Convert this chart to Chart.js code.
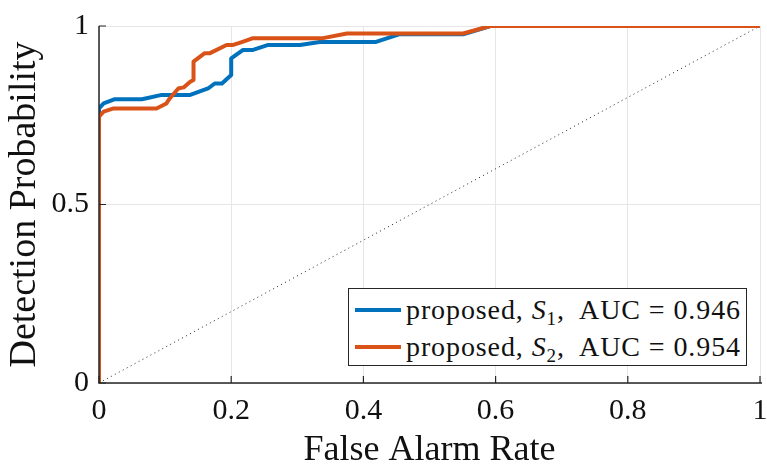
<!DOCTYPE html>
<html>
<head>
<meta charset="utf-8">
<script src="https://cdn.jsdelivr.net/npm/chart.js@4/dist/chart.umd.min.js"></script>
<style>
  html, body { margin:0; padding:0; background:#fff; }
  #wrap { position:relative; width:767px; height:467px; }
  #legend {
    position:absolute; left:348px; top:288px; width:397px; height:76px;
    border:1px solid #262626; background:#fff; box-sizing:content-box;
    font-family:"Liberation Serif", serif; font-size:28px; letter-spacing:0.9px; color:#111;
  }
  .row { position:absolute; left:0; height:36px; display:flex; align-items:center; white-space:nowrap; }
  .swatch { width:46px; height:4px; margin-left:6px; margin-right:5px; }
  sub { font-size:19px; vertical-align:-6px; line-height:0; }
</style>
</head>
<body>
<div id="wrap">
  <canvas id="roc" width="767" height="467"></canvas>
  <div id="legend"></div>
</div>
<script>
// ROC curves: false alarm rate (x) vs detection probability (y)
const s1Fpr = [0, 0, 0.007, 0.024, 0.065, 0.095, 0.138, 0.165, 0.175, 0.186, 0.2, 0.2, 0.218, 0.233, 0.256, 0.304, 0.334, 0.418, 0.455, 0.551, 0.592, 1];
const s1Tpr = [0, 0.769, 0.783, 0.795, 0.795, 0.807, 0.807, 0.825, 0.839, 0.839, 0.863, 0.909, 0.933, 0.933, 0.947, 0.947, 0.955, 0.955, 0.977, 0.977, 1, 1];

const s2Fpr = [0, 0, 0.007, 0.022, 0.087, 0.102, 0.107, 0.12, 0.128, 0.138, 0.143, 0.143, 0.16, 0.168, 0.193, 0.203, 0.216, 0.233, 0.339, 0.375, 0.551, 0.592, 1];
const s2Tpr = [0, 0.746, 0.76, 0.769, 0.769, 0.783, 0.797, 0.825, 0.828, 0.844, 0.849, 0.9, 0.924, 0.924, 0.947, 0.947, 0.955, 0.966, 0.966, 0.979, 0.979, 1, 1];

const chanceLine = [0, 1];
const xTicks = [0, 0.2, 0.4, 0.6, 0.8, 1];
const yTicks = [0, 0.5, 1];

const seriesNames = ['proposed, <i>S</i><sub>1</sub>,&nbsp; AUC = 0.946', 'proposed, <i>S</i><sub>2</sub>,&nbsp; AUC = 0.954'];
const seriesColors = ['#0072BD', '#D95319'];

const toPts = (xs, ys) => xs.map((x, i) => ({ x, y: ys[i] }));
const axisColor = '#262626';
const serif = "'Liberation Serif', 'Times New Roman', serif";
Chart.defaults.font.family = serif;

// MATLAB-style inward tick marks + left/bottom axis lines
const inwardTicks = {
  id: 'inwardTicks',
  afterDatasetsDraw(chart) {
    const { ctx, chartArea: a, scales: { x, y } } = chart;
    ctx.save();
    ctx.strokeStyle = axisColor;
    ctx.lineWidth = 1.2;
    ctx.beginPath();
    xTicks.forEach(v => { const px = x.getPixelForValue(v); ctx.moveTo(px, a.bottom); ctx.lineTo(px, a.bottom - 7); });
    yTicks.forEach(v => { const py = y.getPixelForValue(v); ctx.moveTo(a.left, py); ctx.lineTo(a.left + 7, py); });
    ctx.stroke();
    ctx.lineWidth = 1.5;
    ctx.beginPath();
    ctx.moveTo(a.left, a.top); ctx.lineTo(a.left, a.bottom); ctx.lineTo(a.right + 2, a.bottom);
    ctx.stroke();
    ctx.restore();
  }
};

new Chart(document.getElementById('roc'), {
  type: 'line',
  data: {
    datasets: [
      { data: toPts(chanceLine, chanceLine), borderColor: '#222', borderWidth: 1, borderDash: [1, 3.5], pointRadius: 0, order: 3 },
      { data: toPts(s1Fpr, s1Tpr), borderColor: seriesColors[0], borderWidth: 4, pointRadius: 0, order: 2 },
      { data: toPts(s2Fpr, s2Tpr), borderColor: seriesColors[1], borderWidth: 4, pointRadius: 0, order: 1 }
    ]
  },
  options: {
    responsive: false,
    animation: false,
    layout: { padding: { top: 26, right: 7, left: 0, bottom: 0 } },
    plugins: { legend: { display: false }, tooltip: { enabled: false } },
    elements: { line: { tension: 0, borderJoinStyle: 'round', borderCapStyle: 'butt' } },
    scales: {
      x: {
        type: 'linear', min: 0, max: 1,
        afterBuildTicks: s => { s.ticks = xTicks.map(v => ({ value: v })); },
        afterFit: s => { s.height = 467 - 383; s.paddingLeft = 0; s.paddingRight = 0; },
        border: { display: false },
        grid: { color: '#e6e6e6', lineWidth: 1, drawTicks: false },
        ticks: { color: '#111', padding: 10, font: { family: serif, size: 30 }, maxRotation: 0, callback: v => String(v) },
        title: { display: true, text: 'False Alarm Rate', color: '#111', font: { family: serif, size: 36, lineHeight: 0.9 }, padding: { bottom: 0, top: 0 } }
      },
      y: {
        type: 'linear', min: 0, max: 1,
        afterBuildTicks: s => { s.ticks = yTicks.map(v => ({ value: v })); },
        afterFit: s => { s.width = 99; s.paddingTop = 0; s.paddingBottom = 0; },
        border: { display: false },
        grid: { color: '#e6e6e6', lineWidth: 1, drawTicks: false },
        ticks: { color: '#111', padding: 10, font: { family: serif, size: 30 }, callback: v => String(v) },
        title: { display: true, text: 'Detection Probability', color: '#111', font: { family: serif, size: 38, lineHeight: 1.2 }, padding: { top: 2, bottom: 0 } }
      }
    }
  },
  plugins: [inwardTicks]
});

// legend as html so the subscripts stay real text
const legend = document.getElementById('legend');
legend.innerHTML = seriesNames.map((name, i) =>
  `<div class="row" style="top:${3 + i * 37}px"><span class="swatch" style="background:${seriesColors[i]}"></span><span>${name}</span></div>`
).join('');
</script>
</body>
</html>
